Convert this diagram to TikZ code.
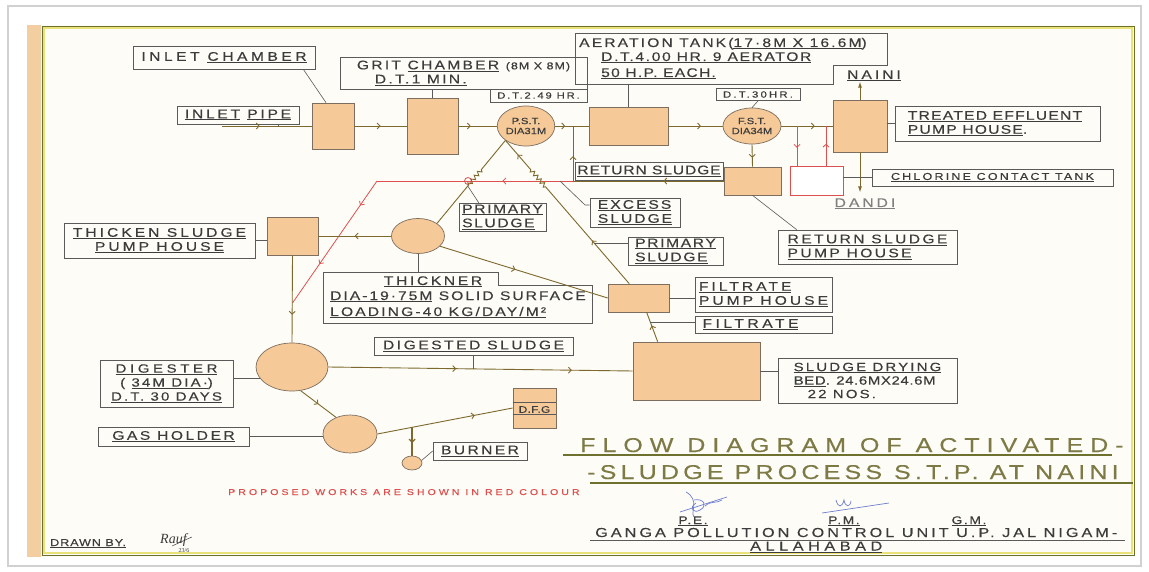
\documentclass[tikz,border=0pt]{standalone}
\usepackage{fontspec}
\setmainfont{Liberation Sans}
\newfontfamily\lblf[FakeStretch=1.25,FakeBold=0.35]{Liberation Sans}
\newfontfamily\sigf{Liberation Serif}
\usetikzlibrary{shapes.geometric,decorations.markings,decorations.pathmorphing,arrows.meta,calc}
\newcommand{\lsp}[1]{\addfontfeatures{LetterSpace=#1}}
\newcommand{\uln}[1]{\underline{#1}}
\definecolor{paper}{RGB}{253,252,246}
\definecolor{tanstrip}{RGB}{242,206,160}
\definecolor{blockfill}{RGB}{246,201,152}
\definecolor{blockline}{RGB}{125,110,95}
\definecolor{flow}{RGB}{125,105,45}
\definecolor{boxline}{RGB}{90,90,90}
\definecolor{txt}{RGB}{60,60,60}
\definecolor{redl}{RGB}{222,80,80}
\definecolor{frameo}{RGB}{110,112,45}
\definecolor{framey}{RGB}{232,226,120}
\definecolor{titlec}{RGB}{125,122,70}
\definecolor{sigblue}{RGB}{110,125,205}
\tikzset{
  lsx/.style={font={\lblf\fontsize{12.5}{14}\selectfont\lsp{#1}}},
  lab/.style={draw=boxline, line width=0.7pt, inner sep=0pt, text=txt, align=center, lsx=20},
  txtn/.style={inner sep=0pt, text=txt, lsx=20},
  blk/.style={draw=blockline, fill=blockfill, line width=0.7pt, inner sep=0pt},
  circ/.style={ellipse, draw=blockline, fill=blockfill, line width=0.7pt, inner sep=0pt,
    text=txt, align=center, font={\lblf\fontsize{9}{10}\selectfont\lsp{0}}},
  fl/.style={draw=flow, line width=0.9pt},
  redf/.style={draw=redl, line width=0.8pt},
  leader/.style={draw=boxline, line width=0.6pt},
  midarr/.style={postaction={decorate,decoration={markings,
      mark=at position #1 with {\arrow{Straight Barb[length=2.8pt,width=6pt]}}}}},
  zz/.style 2 args={decorate, decoration={zigzag, segment length=5pt, amplitude=2pt,
      pre length=#1, post length=#2}},
  titlef/.style={inner sep=0pt, text=titlec, anchor=base west},
  sig/.style={draw=sigblue, line width=0.7pt},
}
\begin{document}
\begin{tikzpicture}[x=1pt,y=-1pt]
\useasboundingbox (0,0) rectangle (1149,572);
% ---------- sheet ----------
\fill[white] (0,0) rectangle (1149,572);
\draw[black!18, line width=1.2pt] (8,6) rectangle (1141,566);
\fill[paper] (27,25) rectangle (1136,557);
\fill[tanstrip] (27,25) rectangle (41,557);
\draw[framey, line width=2.5pt] (44,28) rectangle (1132,553);
\draw[frameo, line width=0.8pt] (42,26) rectangle (1134,555);

% ---------- process blocks ----------
\node[blk, minimum width=42, minimum height=46] (ich) at (333,126) {};
\node[blk, minimum width=51, minimum height=56] (grit) at (432.5,126) {};
\node[circ, minimum width=54, minimum height=40] (pst) at (526,126) {P.S.T.\\DIA31M};
\node[blk, minimum width=79, minimum height=38] (aer) at (628.5,126) {};
\node[circ, minimum width=58, minimum height=36] (fst) at (752,126) {F.S.T.\\DIA34M};
\node[blk, minimum width=54, minimum height=52] (tep) at (860,126) {};
\node[blk, minimum width=57, minimum height=28] (rsp) at (752.5,181) {};
\node[draw=redl, fill=white, line width=0.8pt, inner sep=0pt, minimum width=53, minimum height=29] (cct) at (816.5,180.5) {};
\node[blk, minimum width=51, minimum height=38] (tsp) at (292.5,236) {};
\node[circ, minimum width=53, minimum height=35] (thk) at (418,236) {};
\node[blk, minimum width=61, minimum height=28] (fph) at (638.5,298) {};
\node[blk, minimum width=127, minimum height=58] (sdb) at (696.5,371) {};
\node[circ, minimum width=72, minimum height=48] (dig) at (292,367) {};
\node[circ, minimum width=54, minimum height=38] (gas) at (350,434) {};
\node[blk, minimum width=43, minimum height=40] (dfg) at (534.5,408) {};
\node[circ, minimum width=20, minimum height=14] (bur) at (412,463) {};
\node[txtn, font={\lblf\fontsize{9.5}{10}\selectfont\lsp{3}}] (dfgt) at (534.5,409.5) {D.F.G};
\draw[leader] ($(dfg.north west)+(0,15)$) -- ($(dfg.north east)+(0,15)$);
\draw[leader] ($(dfg.north west)+(0,27)$) -- ($(dfg.north east)+(0,27)$);

% ---------- labels ----------
\node[lab, lsx=28, minimum width=182, minimum height=23] (ichL) at (224,57.5) {INLET \uln{CHAMBER}};
\node[lab, lsx=22, minimum width=122, minimum height=18] (pipeL) at (238,115) {\uln{INLET} \uln{PIPE}};
\node[lab, lsx=18, minimum width=247, minimum height=32, align=left] (gritL) at (463.5,73)
  {GRIT \uln{CHAMBER} {\fontsize{10}{12}\selectfont\lsp{10}(8M X 8M)}\\\hspace*{18pt}\uln{D.T.1 MIN.}};
\node[lab, minimum width=97, minimum height=13, font={\lblf\fontsize{9}{10}\selectfont\lsp{20}}] (dtp) at (538.5,95.5) {D.T.2.49 HR.};
% aeration label (stepped outline)
\coordinate (aerA) at (575,33);
\coordinate (aerB) at (575,84);
\draw[leader, line width=0.7pt] (aerA) -- (887,33) -- (887,65) -- (833,65) -- (833,84) -- (aerB) -- cycle;
\node[txtn, anchor=base west, lsx=17] (aer1) at (579,47) {AERATION TANK(\uln{17·8M X 16.6M})};
\node[txtn, anchor=base west, lsx=13] (aer2) at (601,61) {\uln{D.T.4.00 HR. 9 AERATOR}};
\node[txtn, anchor=base west, lsx=10] (aer3) at (601,77) {\uln{50 H.P. EACH.}};
\node[lab, minimum width=84, minimum height=12, font={\lblf\fontsize{9}{10}\selectfont\lsp{25}}] (dtf) at (758,94.5) {D.T.30HR.};
\node[lab, lsx=10, minimum width=205, minimum height=35, align=left] (tepL) at (997.5,123.5) {\uln{TREATED EFFLUENT}\\\uln{PUMP HOUSE}.\hspace*{60pt}};
\node[txtn, lsx=24, anchor=base] (naini) at (874,79) {\uln{NAINI}};
\node[txtn, lsx=24, text=black!50, anchor=base] (dandi) at (865,207) {\uln{DANDI}};
\node[lab, minimum width=241, minimum height=17, font={\lblf\fontsize{10}{12}\selectfont\lsp{22}}] (cctL) at (992.5,177.5) {\uln{CHLORINE CONTACT TANK}};
\node[lab, lsx=7, minimum width=148, minimum height=18] (rsL) at (649,171) {\uln{RETURN SLUDGE}};
\node[lab, lsx=19, minimum width=179, minimum height=34, align=left] (rspL) at (867.5,247) {\uln{RETURN SLUDGE}\\\uln{PUMP HOUSE}};
\node[lab, lsx=16, minimum width=90, minimum height=29, align=left] (exL) at (635,212.5) {\uln{EXCESS}\\\uln{SLUDGE}};
\node[lab, lsx=13, minimum width=87, minimum height=28, align=left] (ps1L) at (502.5,217) {\uln{PRIMARY}\\\uln{SLUDGE}};
\node[lab, lsx=13, minimum width=95, minimum height=28, align=left] (ps2L) at (675.5,251) {\uln{PRIMARY}\\\uln{SLUDGE}};
\node[lab, lsx=24, minimum width=191, minimum height=35] (tspL) at (159.5,240.5) {\uln{THICKEN SLUDGE}\\\uln{PUMP HOUSE}};
% thickener label (stepped outline)
\coordinate (thkA) at (323,272);
\draw[leader, line width=0.7pt] (thkA) -- (498,272) -- (498,285) -- (592,285) -- (592,323) -- (323,323) -- cycle;
\node[txtn, anchor=base, lsx=21] (thk1) at (433,285) {\uln{THICKNER}};
\node[txtn, anchor=base west, lsx=16] (thk2) at (330,300) {\uln{DIA-19·75M} SOLID SURFACE};
\node[txtn, anchor=base west, lsx=17] (thk3) at (330,316) {\uln{LOADING-40 KG/DAY/M²}};
\node[lab, lsx=20, minimum width=199, minimum height=18] (dsl) at (473.5,346) {\uln{DIGESTED SLUDGE}};
\node[lab, lsx=24, minimum width=137, minimum height=35, align=left] (fphL) at (763.5,294.5) {\uln{FILTRATE}\\\uln{PUMP HOUSE}};
\node[lab, lsx=28, minimum width=137, minimum height=17] (fL) at (763.5,324.5) {\uln{FILTRATE}\hspace*{26pt}};
\node[lab, minimum width=179, minimum height=45, align=left, font={\lblf\fontsize{12}{13.5}\selectfont\lsp{18}}] (sdbL) at (867.5,380.5) {\uln{SLUDGE DRYING}\\{\lsp{5}\uln{BED}. 24.6MX24.6M}\\\hspace*{14pt}22 NOS.};
\node[lab, minimum width=133, minimum height=47, font={\lblf\fontsize{12}{14}\selectfont\lsp{18}}] (digL) at (166.5,383.5) {{\lsp{30}\uln{DIGESTER}}\\( \uln{34M DIA·})\\\uln{D.T. 30 DAYS}};
\node[lab, lsx=20, minimum width=151, minimum height=19] (gasL) at (173.5,436.5) {\uln{GAS HOLDER}};
\node[lab, lsx=19, minimum width=94, minimum height=18] (burL) at (480,451) {\uln{BURNER}};

% ---------- main flow line ----------
\coordinate (inlet) at (222,126);
\draw[fl, midarr=0.42] (inlet) -- (ich.west);
\draw[fl, midarr=0.5] (ich.east) -- (grit.west);
\draw[fl, midarr=0.32] (grit.east) -- (pst.west);
\draw[fl, midarr=0.3] (pst.east) -- (aer.west);
\draw[fl, midarr=0.6] (aer.east) -- (fst.west);
\draw[fl, midarr=0.65] (fst.east) -- (tep.west);
\coordinate (nainiA) at ($(tep.north)+(0,-18)$);
\coordinate (dandiA) at ($(tep.south)+(0,40)$);
\draw[fl, -{Latex[length=6pt,width=4pt]}] (tep.north) -- (nainiA);
\draw[fl, -{Latex[length=6pt,width=4pt]}] (tep.south) -- (dandiA);

% ---------- return sludge ----------
\coordinate (rtop) at (573,126);
\coordinate (rbot) at (573,181);
\draw[fl, midarr=0.6] (fst.south) -- (rsp.north);
\draw[fl, midarr=0.4] (rsp.west) -- (rbot);
\draw[fl, midarr=0.45] (rbot) -- (rtop);
% proposed (red) works
\coordinate (rk) at (377,181);
\coordinate (rend) at (292.5,303);
\draw[redf, midarr=0.36] (rbot) -- (rk);
\draw[redf, midarr=0.2, midarr=0.68] (rk) -- (rend);
\node[draw=redl, circle, minimum size=7pt, inner sep=0pt, line width=0.8pt] (rring) at (468,181) {};
\coordinate (c1) at (797,126);
\coordinate (c2) at (826,126);
\draw[redf, midarr=0.55] (c1) -- (c1 |- cct.north);
\draw[redf, midarr=0.55] (c2 |- cct.north) -- (c2);

% ---------- sludge lines ----------
\draw[fl, zz={38pt}{48pt}] (pst.south west) -- (thk.north east);
\coordinate (fpn) at ($(fph.north west)!0.35!(fph.north east)$);
\draw[fl, zz={128pt}{38pt}] (fpn) -- (pst.south west);
\path[color=flow, line width=0.9pt, midarr=0.3, midarr=0.9] (fpn) -- (pst.south west);
\coordinate (sdbt) at ($(sdb.north west)+(25,0)$);
\coordinate (fpb) at ($(fph.south west)+(39,0)$);
\draw[fl, midarr=0.55] (sdbt) -- (fpb);
\draw[fl, midarr=0.5] (thk.west) -- (tsp.east);
\draw[fl, midarr=0.45] (thk.-25) -- (fph.west);
\draw[fl, midarr=0.68] (tsp.south) -- (dig.north);
\draw[fl, midarr=0.42, midarr=0.8] (dig.east) -- (sdb.west);
\draw[fl, midarr=0.5] (dig.-70) -- (gas.130);
\draw[fl, midarr=0.72] (gas.east) -- (dfg.west);
\coordinate (bj) at ($(gas.east)!0.257!(dfg.west)$);
\draw[fl, line width=1.3pt, midarr=0.55] (bj) -- (bj |- bur.north);

% ---------- leaders ----------
\draw[leader] ($(ichL.south east)+(-12,0)$) -- ($(ich.north)+(-7,0)$);
\draw[leader] ($(pipeL.south east)+(-21,0)$) -- ($(pipeL.south east)+(-21,2)$);
\draw[leader] (grit.north |- gritL.south) -- (grit.north);
\draw[leader] (aer.north |- aerB) -- (aer.north);
\draw[leader] (dtf.south) -- (fst.north);
\draw[leader] (tep.east |- tepL.west) -- (tepL.west);
\draw[leader] (cct.east |- cctL.west) -- (cctL.west);
\draw[leader] (rsp.south) -- ($(rspL.north west)+(19,0)$);
\coordinate (exj) at (560,181);
\coordinate (exk) at (585,205);
\draw[leader] (exj) -- (exk) -- (exk -| exL.west);
\coordinate (p1j) at ($(pst.south west)!0.55!(thk.north east)$);
\draw[leader] (p1j) -- ($(ps1L.north west)+(20,0)$);
\coordinate (p2j) at ($(fpn)!0.285!(pst.south west)$);
\draw[leader] (p2j) -- (p2j -| ps2L.west);
\draw[leader] (thk.south) -- (thk.south |- thkA);
\draw[leader] (tspL.east) -- (tspL.east -| tsp.west);
\draw[leader] (fph.east) -- (fph.east -| fphL.west);
\coordinate (fj) at ($(sdbt)!0.67!(fpb)$);
\draw[leader] (fj) -- (fj -| fL.west);
\draw[leader] (sdb.east) -- (sdb.east -| sdbL.west);
\coordinate (dj) at ($(dig.east)!0.475!(sdb.west)$);
\draw[leader] (dsl.south -| dj) -- (dj);
\draw[leader] (dig.200 -| digL.east) -- (dig.200);
\draw[leader] (gasL.east) -- (gasL.east -| gas.west);
\draw[leader] (bur.15) -- (burL.west);

% ---------- notes and title block ----------
\node[anchor=base west, inner sep=0pt, text=redl, font={\lblf\fontsize{8.5}{9}\selectfont\lsp{35}}] (note) at (228,495) {PROPOSED WORKS ARE SHOWN IN RED COLOUR};
\node[titlef, font={\lblf\fontsize{20}{20}\selectfont\lsp{35}}] (t1) at (580,452) {FLOW DIAGRAM OF ACTIVATED-};
\node[titlef, font={\lblf\fontsize{20}{20}\selectfont\lsp{21}}] (t2) at (587,479) {-SLUDGE PROCESS\hspace*{12pt}S.T.P. AT NAINI};
\draw[draw=frameo, line width=1.1pt] ($(t1.base west)+(-17,3)$) -- (1112,455);
\draw[draw=frameo, line width=1.1pt] ($(t2.base west)+(3,4)$) -- (1133,483);
\node[txtn, anchor=base, font={\lblf\fontsize{11}{12}\selectfont\lsp{15}}] (pe) at (693,524) {\uln{P.E.}};
\node[txtn, anchor=base, font={\lblf\fontsize{11}{12}\selectfont\lsp{15}}] (pm) at (844,524) {\uln{P.M.}};
\node[txtn, anchor=base, font={\lblf\fontsize{11}{12}\selectfont\lsp{15}}] (gm) at (969,524) {\uln{G.M.}};
\node[txtn, anchor=base west, font={\lblf\fontsize{13}{14}\selectfont\lsp{23}}] (ganga) at (595,537) {GANGA POLLUTION CONTROL UNIT U.P. JAL NIGAM-};
\draw[leader] ($(ganga.base west)+(-5,3)$) -- (1125,540);
\node[txtn, anchor=base west, font={\lblf\fontsize{13}{14}\selectfont\lsp{35}}] (alla) at (750,550.5) {\uln{ALLAHABAD}};
\node[txtn, anchor=base west, font={\lblf\fontsize{10}{11}\selectfont\lsp{10}}] (drawn) at (50,546) {\uln{DRAWN BY.}};
\node[anchor=base west, inner sep=0pt, text=txt, font={\sigf\itshape\fontsize{14}{14}\selectfont}] (rauf) at (160,543) {Rauf};
\node[anchor=base, inner sep=0pt, text=txt, font={\sigf\fontsize{6}{6}\selectfont}] (date) at (184,552) {23/6};
\draw[draw=txt, line width=0.5pt] ($(rauf.base west)+(12,3)$) -- ($(rauf.base east)+(5,-6)$);
% signatures
\draw[sig] (686,492) .. controls (700,500) and (690,512) .. (694,517);
\draw[sig] (694,500) .. controls (704,498) and (708,506) .. (700,510) .. controls (694,514) and (688,508) .. (696,503);
\draw[sig] (680,512) -- (727,497);
\draw[sig] (705,506) .. controls (712,500) and (716,504) .. (722,500);
\draw[sig] (822,513) -- (889,503);
\draw[sig] (836,500) .. controls (838,508) and (842,508) .. (844,500) .. controls (845,507) and (850,508) .. (851,501);
\end{tikzpicture}
\end{document}
